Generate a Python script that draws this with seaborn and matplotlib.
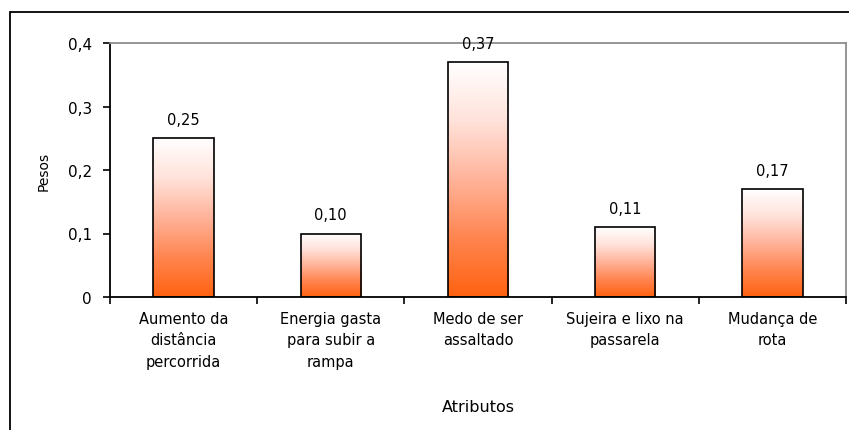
import numpy as np
import pandas as pd
import matplotlib
matplotlib.use("Agg")
import matplotlib.pyplot as plt
import seaborn as sns
from matplotlib.colors import LinearSegmentedColormap
from matplotlib.patches import Rectangle

# Data
categorias = [
    "Aumento da\ndistância\npercorrida",
    "Energia gasta\npara subir a\nrampa",
    "Medo de ser\nassaltado",
    "Sujeira e lixo na\npassarela",
    "Mudança de\nrota",
]
pesos = [0.25, 0.10, 0.37, 0.11, 0.17]
rotulos = ["0,25", "0,10", "0,37", "0,11", "0,17"]
yticks = [0.0, 0.1, 0.2, 0.3, 0.4]
ytick_labels = ["0", "0,1", "0,2", "0,3", "0,4"]

df = pd.DataFrame({"Atributos": categorias, "Pesos": pesos})

sns.set_style("white")
plt.rcParams["font.family"] = ["DejaVu Sans"]
plt.rcParams["text.color"] = "black"
plt.rcParams["axes.labelcolor"] = "black"
plt.rcParams["xtick.color"] = "black"
plt.rcParams["ytick.color"] = "black"

W, H = 849, 431
fig = plt.figure(figsize=(W / 100, H / 100), dpi=100)
fig.patch.set_facecolor("white")

# Outer chart frame (left and top edges visible)
frame = Rectangle((10 / W, -0.2), 1.2, (H - 13) / H + 0.2,
                  transform=fig.transFigure, fill=False,
                  edgecolor="black", linewidth=1.3, zorder=0)
fig.patches.append(frame)

ax = fig.add_axes([110 / W, (H - 298) / H, (846 - 110) / W, (298 - 44) / H])
ax.set_facecolor("white")

sns.barplot(data=df, x="Atributos", y="Pesos", ax=ax, width=0.41,
            color="white", edgecolor="black", linewidth=1.2, zorder=3)

# Vertical gradient inside each bar: white at the top, orange at the base
cmap = LinearSegmentedColormap.from_list(
    "grad", ["#FFFFFF", "#FFE2DA", "#FFB39A", "#FF8550", "#FF6210"])
grad = np.linspace(0, 1, 256).reshape(-1, 1)
for bar in ax.patches:
    x0, y0 = bar.get_x(), bar.get_y()
    w, h = bar.get_width(), bar.get_height()
    im = ax.imshow(grad, cmap=cmap, aspect="auto", origin="upper",
                   extent=[x0, x0 + w, y0, y0 + h], zorder=2,
                   interpolation="bilinear")
    im.set_clip_path(bar)
    bar.set_facecolor("none")

for i, (v, t) in enumerate(zip(pesos, rotulos)):
    ax.annotate(t, (i, v), xytext=(0, 8), textcoords="offset points",
                ha="center", va="bottom", fontsize=10.5, color="black")

ax.set_xlim(-0.5, len(categorias) - 0.5)
ax.set_ylim(0, 0.4)
ax.set_yticks(yticks)
ax.set_yticklabels(ytick_labels, fontsize=11)
ax.set_xticks(range(len(categorias)))
ax.set_xticklabels(categorias, fontsize=10.5, linespacing=1.55)
ax.set_xticks(np.arange(-0.5, len(categorias), 1.0), minor=True)
ax.tick_params(axis="x", which="major", length=0, pad=10)
ax.tick_params(axis="x", which="minor", length=5, width=1.2, direction="out",
               bottom=True, color="black")
ax.tick_params(axis="y", length=5, width=1.2, direction="out", left=True,
               color="black", pad=8)

for side in ["left", "bottom"]:
    ax.spines[side].set_color("black")
    ax.spines[side].set_linewidth(1.3)
for side in ["top", "right"]:
    ax.spines[side].set_visible(True)
    ax.spines[side].set_color("#8C8C8C")
    ax.spines[side].set_linewidth(1.3)

ax.set_ylabel("Pesos", fontsize=10)
ax.set_xlabel("Atributos", fontsize=11.5)
ax.yaxis.set_label_coords(-0.080, 0.5)
ax.xaxis.set_label_coords(0.5, -0.40)

fig.savefig("out.png", dpi=100, facecolor="white")
